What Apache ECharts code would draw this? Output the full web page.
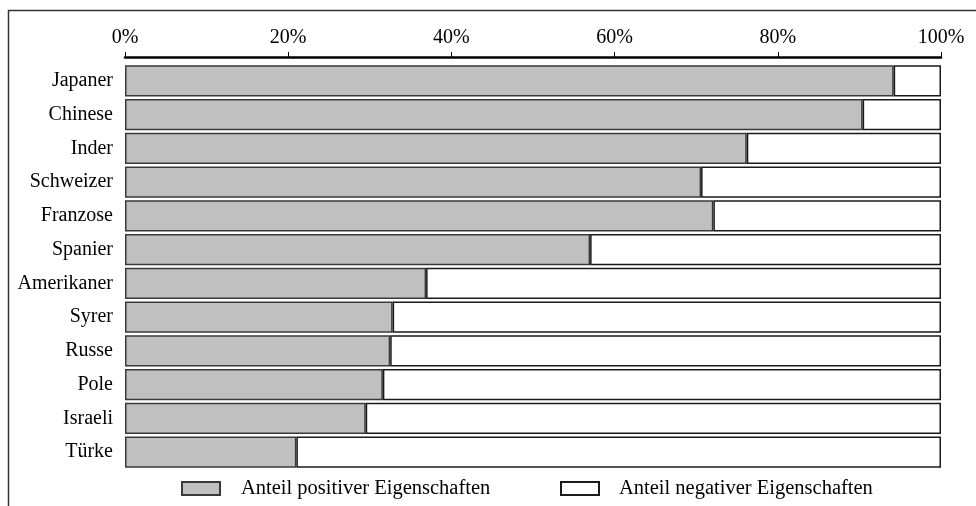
<!DOCTYPE html>
<html><head><meta charset="utf-8">
<script src="https://cdn.jsdelivr.net/npm/echarts@6/dist/echarts.min.js"></script>
<style>html,body{margin:0;padding:0;background:#fff}#c{width:976px;height:506px}</style>
</head><body><div id="c"></div>
<script>
var categories = ["Japaner","Chinese","Inder","Schweizer","Franzose","Spanier","Amerikaner","Syrer","Russe","Pole","Israeli","Türke"];
var positive = [94.2,90.4,76.2,70.6,72.1,57.0,36.9,32.8,32.5,31.6,29.5,21.0];
var negative = positive.map(function(v){return +(100 - v).toFixed(1);});
var seriesNames = ["Anteil positiver Eigenschaften","Anteil negativer Eigenschaften"];
var xTicks = [0,20,40,60,80,100];

var font = "Liberation Serif";
var chart = echarts.init(document.getElementById('c'), null, {renderer:'canvas'});
chart.setOption({
  animation:false,
  textStyle:{fontFamily:font},
  graphic:[{type:'rect', shape:{x:8.5,y:10.5,width:1200,height:800}, style:{fill:'none',stroke:'#333',lineWidth:1.5}, silent:true}],
  grid:{left:125,right:35,top:64,bottom:37},
  legend:[
    {data:[seriesNames[0]], left:181, top:478, padding:0, itemWidth:38, itemHeight:13, icon:'rect',
     textStyle:{fontFamily:font,fontSize:20.5,color:'#000',padding:[14,0,0,16]}},
    {data:[seriesNames[1]], left:560, top:478, padding:0, itemWidth:38, itemHeight:13, icon:'rect',
     textStyle:{fontFamily:font,fontSize:20.5,color:'#000',padding:[14,0,0,15]}}
  ],
  xAxis:{type:'value', position:'top', min:0, max:100, interval:20, offset:7,
    axisLine:{show:true,lineStyle:{color:'#000',width:2.5}},
    axisTick:{show:true,inside:false,length:5,lineStyle:{color:'#000',width:1}},
    splitLine:{show:false},
    axisLabel:{margin:9,fontFamily:font,fontSize:20,color:'#000',formatter:function(v){return v+'%';}}
  },
  yAxis:{type:'category', data:categories, inverse:true,
    axisLine:{show:false}, axisTick:{show:false},
    axisLabel:{margin:12,fontFamily:font,fontSize:20,color:'#000'}
  },
  series:[
    {name:seriesNames[0], type:'bar', stack:'a', data:positive, barCategoryGap:'8%',
     itemStyle:{color:'#c0c0c0',borderColor:'#3a3a3a',borderWidth:1.5}},
    {name:seriesNames[1], type:'bar', stack:'a', data:negative, barCategoryGap:'8%',
     itemStyle:{color:'#ffffff',borderColor:'#1a1a1a',borderWidth:1.5}}
  ]
});
</script></body></html>
